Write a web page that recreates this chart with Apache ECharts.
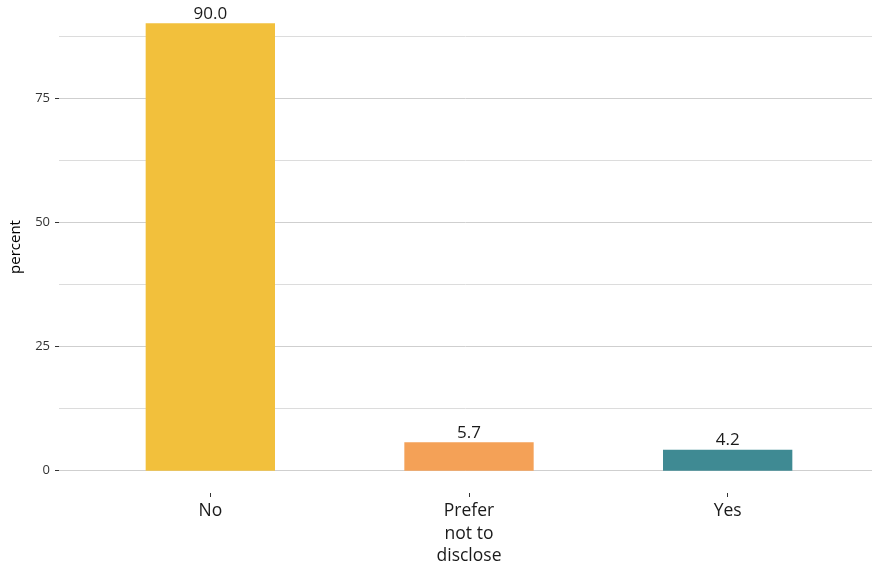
<!DOCTYPE html>
<html>
<head>
<meta charset="utf-8">
<script src="https://cdn.jsdelivr.net/npm/echarts@6/dist/echarts.min.js"></script>
<style>
  html, body { margin: 0; padding: 0; background: #ffffff; }
  #chart { width: 872px; height: 569px; }
</style>
</head>
<body>
<div id="chart"></div>
<script>
// Survey answers and their share of respondents (percent)
const categories = ['No', 'Prefer\nnot to\ndisclose', 'Yes'];
const percents = [90.0, 5.7, 4.2];
const barColors = ['#F2C03C', '#F4A157', '#3F8A93'];
const yTicks = [0, 25, 50, 75];
const yMinorTicks = [12.5, 37.5, 62.5, 87.5];

// padded value range so the bars sit slightly above the panel floor
const Y_MIN = -4.5;
const Y_MAX = 94.5;

const FONT = '"Open Sans", "DejaVu Sans", sans-serif';

const chart = echarts.init(document.getElementById('chart'));

chart.setOption({
  animation: false,
  backgroundColor: '#ffffff',
  grid: [
    // panel that carries the horizontal guide lines and the y labels
    { left: 53, right: -10, top: 1, bottom: 76, containLabel: false },
    // panel that carries the bars and category labels
    { left: 81, right: 15, top: 1, bottom: 76, containLabel: false }
  ],
  xAxis: [
    { gridIndex: 0, type: 'value', min: 0, max: 1, show: false },
    {
      gridIndex: 1,
      type: 'category',
      data: categories,
      axisLine: { show: false, onZero: false },
      axisTick: { show: true, length: 4, alignWithLabel: true, lineStyle: { color: '#333333', width: 1 } },
      axisLabel: {
        color: '#1a1a1a',
        fontFamily: FONT,
        fontSize: 17.5,
        lineHeight: 22.5,
        margin: 7,
        interval: 0
      },
      splitLine: { show: false }
    }
  ],
  yAxis: [
    {
      gridIndex: 0,
      type: 'value',
      min: Y_MIN,
      max: Y_MAX,
      name: 'percent',
      nameLocation: 'middle',
      nameGap: 36,
      nameRotate: 90,
      nameTextStyle: { color: '#000000', fontFamily: FONT, fontSize: 15 },
      axisLine: { show: false },
      axisTick: { show: true, length: 4, customValues: yTicks, lineStyle: { color: '#333333', width: 1 } },
      axisLabel: {
        color: '#333333',
        fontFamily: FONT,
        fontSize: 13,
        margin: 9,
        customValues: yTicks
      },
      splitLine: { show: true, lineStyle: { color: '#cfcfcf', width: 1 } }
    },
    {
      // minor guide lines halfway between labelled ticks
      gridIndex: 0,
      type: 'value',
      min: Y_MIN,
      max: Y_MAX,
      position: 'left',
      axisLine: { show: false },
      axisTick: { show: true, length: 0, customValues: yMinorTicks, lineStyle: { color: 'rgba(0,0,0,0)' } },
      axisLabel: { show: false, customValues: yMinorTicks },
      splitLine: { show: true, lineStyle: { color: '#dcdcdc', width: 1 } }
    },
    {
      gridIndex: 1,
      type: 'value',
      min: Y_MIN,
      max: Y_MAX,
      show: false
    }
  ],
  series: [
    {
      type: 'bar',
      xAxisIndex: 1,
      yAxisIndex: 2,
      barWidth: '50%',
      data: percents.map((v, i) => ({ value: v, itemStyle: { color: barColors[i] } })),
      label: {
        show: true,
        position: 'top',
        distance: 1,
        color: '#1a1a1a',
        fontFamily: FONT,
        fontSize: 17,
        formatter: p => p.value.toFixed(1)
      }
    }
  ]
});
</script>
</body>
</html>
